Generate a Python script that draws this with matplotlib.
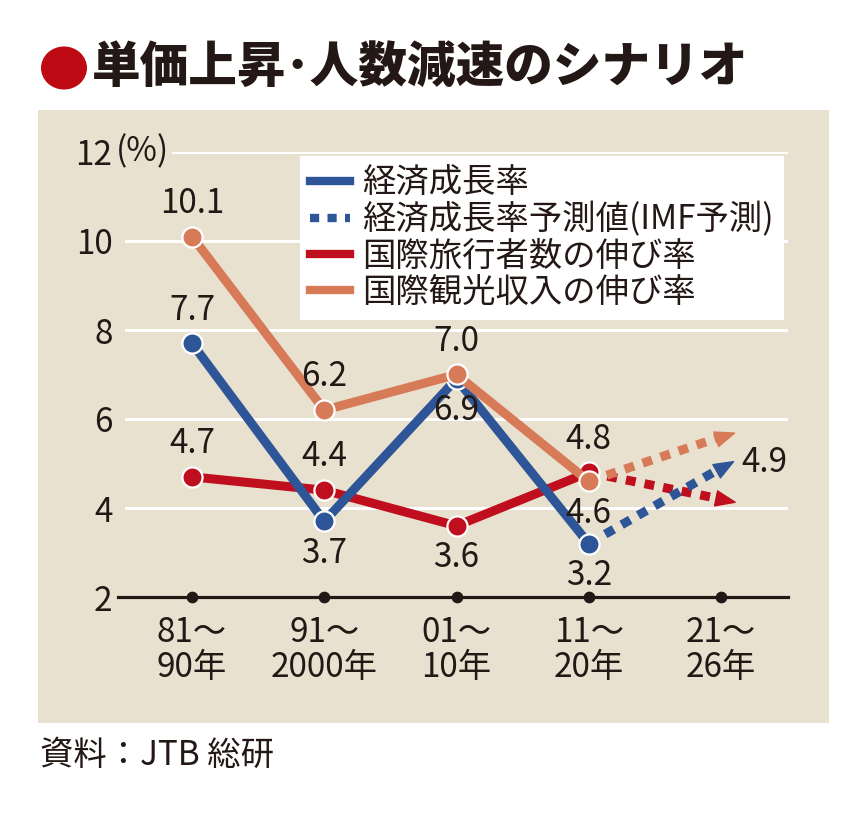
import matplotlib
matplotlib.use("Agg")
import matplotlib.pyplot as plt
from matplotlib.lines import Line2D
from matplotlib.patches import Rectangle, Circle
from matplotlib.markers import MarkerStyle
from matplotlib.path import Path
from matplotlib.transforms import Affine2D
import numpy as np

plt.rcParams["font.family"] = ["Noto Sans CJK JP", "DejaVu Sans"]

# data
periods = ["81～\n90年", "91～\n2000年", "01～\n10年", "11～\n20年", "21～\n26年"]
gdp = [7.7, 3.7, 6.9, 3.2]
gdp_forecast = [3.2, 4.9]
travellers = [4.7, 4.4, 3.6, 4.8]
travellers_next = [4.8, 4.2]
receipts = [10.1, 6.2, 7.0, 4.6]
receipts_next = [4.6, 5.6]
yticks = [2, 4, 6, 8, 10, 12]

BLUE = "#2d5597"
RED = "#bf0f1e"
ORANGE = "#d77a58"
BG = "#e9e1cf"
INK = "#231815"
FS = 24

W, H = 868, 813
fig = plt.figure(figsize=(W / 100, H / 100), dpi=100)
fig.patch.set_facecolor("white")

# beige panel
fig.patches.append(Rectangle((38 / W, 1 - 723 / H), 791 / W, 613 / H,
                             transform=fig.transFigure, facecolor=BG,
                             edgecolor="none", zorder=0))

# title
fig.patches.append(Circle((64 / W, 1 - 68 / H), 23 / W, transform=fig.transFigure,
                          facecolor="#be0a14", edgecolor="none", zorder=1))
fig.text(92 / W, 1 - 68 / H, "単価上昇･人数減速のシナリオ", fontsize=35,
         fontweight="black", color=INK, va="center", ha="left")
fig.text(40 / W, 1 - 755 / H, "資料：JTB 総研", fontsize=24, color=INK,
         va="center", ha="left")

ax = fig.add_axes([125 / W, 1 - 597 / H, 663 / W, 445 / H])
ax.set_zorder(2)
ax.set_facecolor("none")
ax.set_xlim(-0.507, 4.507)
ax.set_ylim(2, 12)
for s in ax.spines.values():
    s.set_visible(False)

ax.set_yticks(yticks)
ax.set_yticklabels([str(v) for v in yticks])
ax.yaxis.grid(True, color="white", lw=2.2)
ax.set_axisbelow(True)
x = np.arange(len(periods))
ax.set_xticks(x)
ax.set_xticklabels(periods, linespacing=1.0)
ax.tick_params(axis="both", length=0, labelsize=FS, colors=INK)
ax.tick_params(axis="y", pad=9)
ax.tick_params(axis="x", pad=13)
ax.text(-0.575, 12, "(%)", fontsize=FS, color=INK, va="center", ha="left",
        bbox=dict(facecolor=BG, edgecolor="none", pad=2), zorder=3)

# base axis line with dots
ax.axhline(2, xmin=-0.011, xmax=1, color=INK, lw=2.3, clip_on=False, zorder=4)
ax.scatter(x, [2] * len(x), s=55, color=INK, zorder=5, clip_on=False)

mk = dict(marker="o", markersize=14.5, markeredgecolor="white", markeredgewidth=1.6,
          solid_capstyle="butt", clip_on=False)
ax.plot(x[:4], travellers, color=RED, lw=6.5, zorder=6, **mk)
ax.plot(x[:4], gdp, color=BLUE, lw=6.5, zorder=7, **mk)
ax.plot(x[:4], receipts, color=ORANGE, lw=6.5, zorder=8, **mk)

# forecasts: dotted line with triangle head
head = Path([(1.0, 0.0), (-0.4, 0.55), (-0.4, -0.55), (1.0, 0.0)],
            [Path.MOVETO, Path.LINETO, Path.LINETO, Path.CLOSEPOLY])
for vals, c, z in ((travellers_next, RED, 6.5), (gdp_forecast, BLUE, 7.5),
                   (receipts_next, ORANGE, 8.5)):
    xs = x[3:5]
    ax.plot(xs, vals, color=c, lw=6.5, linestyle=(0, (1.1, 1.0)),
            dash_capstyle="butt", zorder=z - 1.2, clip_on=False)
    p0 = ax.transData.transform((xs[0], vals[0]))
    p1 = ax.transData.transform((xs[1], vals[1]))
    ang = np.degrees(np.arctan2(p1[1] - p0[1], p1[0] - p0[0]))
    ms = MarkerStyle(head, transform=Affine2D().rotate_deg(ang))
    ax.plot([xs[1]], [vals[1]], marker=ms, markersize=20, color=c,
            linestyle="none", zorder=z, clip_on=False)

# value labels
lab = dict(fontsize=FS, color=INK, ha="center", va="center",
           textcoords="offset points", zorder=10)
above = [(0, receipts[0]), (0, gdp[0]), (0, travellers[0]), (1, receipts[1]),
         (1, travellers[1]), (2, receipts[2]), (3, travellers[3])]
below = [(1, gdp[1]), (2, gdp[2]), (2, travellers[2]), (3, receipts[3]), (3, gdp[3])]
for xi, v in above:
    ax.annotate(f"{v:.1f}", (xi, v), xytext=(0, 24), **lab)
for xi, v in below:
    ax.annotate(f"{v:.1f}", (xi, v), xytext=(0, -23), **lab)
ax.annotate(f"{gdp_forecast[1]:.1f}", (4, gdp_forecast[1]), xytext=(15, 4),
            fontsize=FS, color=INK, ha="left", va="center",
            textcoords="offset points", zorder=10)

handles = [Line2D([], [], color=BLUE, lw=6),
           Line2D([], [], color=BLUE, lw=6, linestyle=(0, (1.1, 1.0))),
           Line2D([], [], color=RED, lw=6),
           Line2D([], [], color=ORANGE, lw=6)]
labels = ["経済成長率", "経済成長率予測値(IMF予測)", "国際旅行者数の伸び率",
          "国際観光収入の伸び率"]
leg = fig.legend(handles, labels, loc="upper left",
                 bbox_to_anchor=(300 / W, 1 - 156 / H), fontsize=FS,
                 frameon=True, fancybox=False, edgecolor="none",
                 facecolor="white", framealpha=1, handlelength=1.2,
                 handletextpad=0.36, labelspacing=0.04, borderpad=0.3,
                 borderaxespad=0)
for t in leg.get_texts():
    t.set_color(INK)
leg.set_zorder(20)

fig.savefig("out.png", dpi=100)
